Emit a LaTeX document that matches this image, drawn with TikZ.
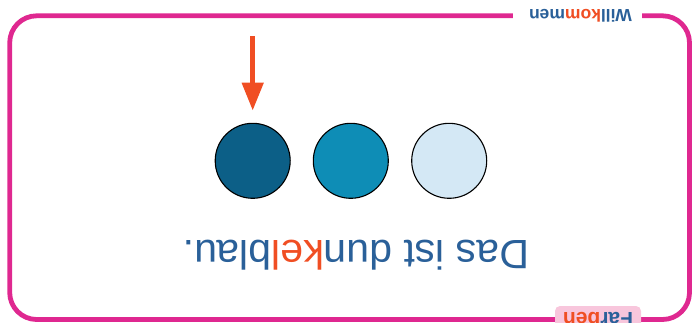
\documentclass[tikz,border=0pt]{standalone}
\usepackage{fontspec}
\setmainfont{Liberation Sans}
\usetikzlibrary{arrows.meta}
\definecolor{framemag}{HTML}{DF2890}
\definecolor{txtblue}{HTML}{2A6099}
\definecolor{txtorange}{HTML}{F04E23}
\definecolor{labelpink}{HTML}{F8C6DC}
\definecolor{cdark}{HTML}{0C5F87}
\definecolor{cmid}{HTML}{0E8DB6}
\definecolor{clight}{HTML}{D4E8F5}
\tikzset{
  frameline/.style={draw=framemag, line width=4.8pt, rounded corners=27pt},
  dot/.style={circle, draw=black, line width=1.1pt, minimum size=75pt, inner sep=0pt},
  pointer/.style={draw=txtorange, line width=5.3pt, -{Triangle[width=20.7pt,length=28pt]}},
  flipped/.style={rotate=180, anchor=base, inner sep=0pt, text=txtblue},
}
\begin{document}
\begin{tikzpicture}[x=1pt,y=-1pt]
\useasboundingbox (0,0) rectangle (692,322);
\clip (0,0) rectangle (692,322);
% frame
\draw[frameline] (9.7,15.8) rectangle (689.5,319.5);
% gap for top label
\fill[white] (513,9) rectangle (642,23);
\node[flipped, font=\fontsize{17.5}{20}\selectfont\bfseries] (welcome) at (580.5,9.5)
  {Will\textcolor{txtorange}{kom}men};
% bottom label
\node[flipped, fill=labelpink, rounded corners=5pt, inner xsep=8pt, inner ysep=6.5pt,
  font=\fontsize{21}{24}\selectfont\bfseries] (colours) at (598,312.7)
  {Far\textcolor{txtorange}{ben}};
% circles
\node[dot, fill=cdark] (c1) at (252.7,160.8) {};
\node[dot, fill=cmid] (c2) at (350.8,160.8) {};
\node[dot, fill=clight] (c3) at (449.2,160.8) {};
% arrow
\coordinate (arrowstart) at (252.7,36);
\coordinate (arrowtip) at (252.7,110.7);
\draw[pointer] (arrowstart) -- (arrowtip);
% main text
\node[flipped, font=\fontsize{41}{49}\selectfont] (caption) at (356,240)
  {Das ist dun\textcolor{txtorange}{kel}blau.};
\end{tikzpicture}
\end{document}
